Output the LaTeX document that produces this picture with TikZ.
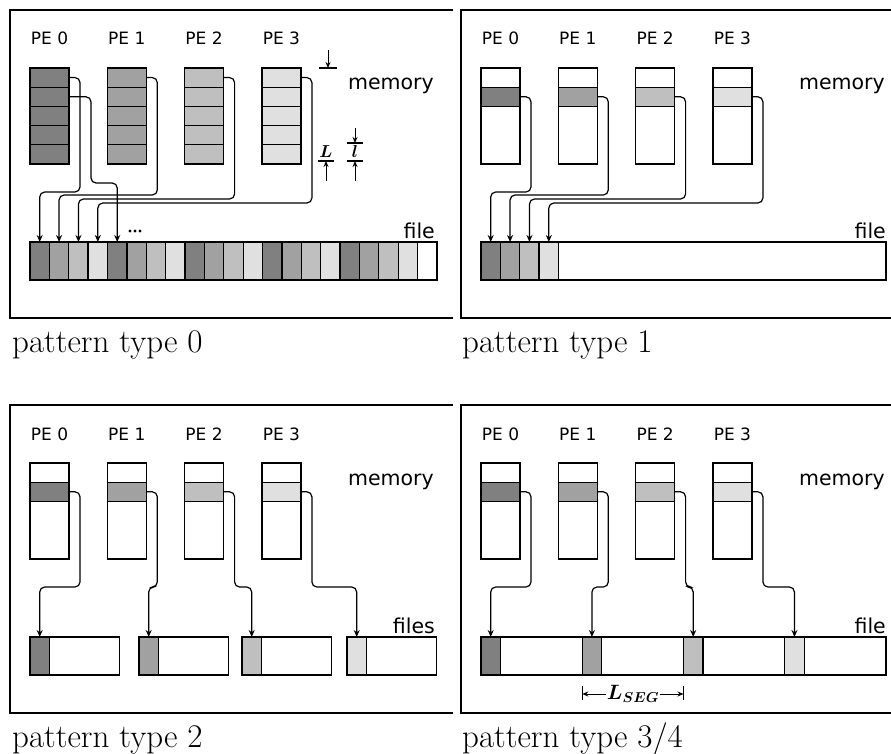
\documentclass[tikz,border=0pt]{standalone}
\usepackage{fontspec}
\usepackage{bm}
\newfontfamily\labelfont{DejaVu Sans}
\usetikzlibrary{arrows.meta}

\definecolor{g0}{gray}{0.50}
\definecolor{g1}{gray}{0.63}
\definecolor{g2}{gray}{0.75}
\definecolor{g3}{gray}{0.88}

\begin{document}
\begin{tikzpicture}[x=1pt, y=-1pt,
    cell/.style={draw, line width=1.3pt, inner sep=0pt, outer sep=0pt, anchor=north west,
        minimum width=39pt, minimum height=19.2pt},
    fcell/.style={draw, line width=1.3pt, inner sep=0pt, outer sep=0pt, anchor=north west,
        minimum width=19.4pt, minimum height=38pt},
    link/.style={line width=1.2pt, rounded corners=5pt, -{Stealth[length=7pt, width=6pt]}},
    dim/.style={line width=1pt, -{Stealth[length=6pt, width=5pt]}},
    bar/.style={line width=1.2pt},
    pe/.style={font=\labelfont\fontsize{17}{17}\selectfont, anchor=base, inner sep=0pt},
    lbl/.style={font=\labelfont\fontsize{20.5}{20.5}\selectfont, anchor=base east, inner sep=0pt},
    dimlbl/.style={font=\fontsize{16}{16}\selectfont, inner sep=1pt},
    caption/.style={font=\fontsize{33}{33}\selectfont, anchor=base west, inner sep=0pt},
    frame/.style={line width=1.3pt}]
\useasboundingbox (0,0) rectangle (891,754);

% pattern type 0
\begin{scope}
    \draw[frame] (453,10) -- (10,10) -- (10,318) -- (453,318);
    \draw[line width=2.8pt] (10,10) -- (10,318);
    \node[lbl] (amem) at (434,90) {memory};
    \node[lbl] (afile) at (435,238) {file};
    \foreach \i in {0,...,3} {
        \node[pe] (ape\i) at ({49.5+77.3*\i},45) {PE \i};
        \foreach \j in {0,...,4}
            \node[cell, fill=g\i] (am\i\j) at ({30+77.3*\i},{68+19.2*\j}) {};
    }
    \foreach \j in {0,...,19} {
        \pgfmathtruncatemacro\k{mod(\j,4)}
        \node[fcell, fill=g\k] (af\j) at ({30+19.38*\j},242) {};
    }
    \node[fcell] (af20) at ({30+19.38*20},242) {};
    \foreach \i/\lev in {0/192,1/195,2/199,3/203} {
        \coordinate (alv\i) at (0,\lev);
        \draw[link] (am\i0.east) -- ++(11,0) |- (af\i.north |- alv\i) -- (af\i.north);
    }
    \coordinate (alv4) at (0,183);
    \draw[link] (am01.east) -- ++(22,0) |- (af4.north |- alv4) -- (af4.north);
    % more
    \foreach \d in {0,1,2}
        \fill (130+5*\d,231) circle (1.7);
    % L and l
    \draw[bar] (319,68) -- (337,68);
    \draw[dim] (328,50) -- (328,68);
    \node[dimlbl] (Lsym) at (326,152) {$\bm{L}$};
    \draw[bar] (318,161) -- (334,161);
    \draw[dim] (326,181) -- (326,161);
    \draw[bar] (347,143) -- (363,143);
    \draw[dim] (355,128) -- (355,143);
    \node[dimlbl] (lsym) at (355,152) {$\bm{l}$};
    \draw[bar] (347,161) -- (363,161);
    \draw[dim] (355,181) -- (355,161);
    \node[caption] (acap) at (12,352) {pattern type 0};
\end{scope}

% pattern type 1
\begin{scope}[shift={(451,0)}]
    \draw[frame] (440,10) -- (10,10) -- (10,318) -- (440,318);
    \node[lbl] (bmem) at (434,90) {memory};
    \node[lbl] (bfile) at (435,238) {file};
    \foreach \i in {0,...,3} {
        \node[pe] (bpe\i) at ({49.5+77.3*\i},45) {PE \i};
        \node[cell] (bm\i0) at ({30+77.3*\i},68) {};
        \node[cell, fill=g\i] (bm\i1) at ({30+77.3*\i},87.2) {};
        \node[cell, minimum height=57.6pt] (bm\i2) at ({30+77.3*\i},106.4) {};
        \node[fcell, fill=g\i] (bf\i) at ({30+19.38*\i},242) {};
    }
    \node[fcell, minimum width=327.5pt] (bw) at (107.5,242) {};
    \foreach \i/\lev in {0/192,1/195,2/199,3/203} {
        \coordinate (blv\i) at (0,\lev);
        \draw[link] (bm\i1.east) -- ++(11,0) |- (bf\i.north |- blv\i) -- (bf\i.north);
    }
    \node[caption] (bcap) at (11,352) {pattern type 1};
\end{scope}

% pattern type 2
\begin{scope}[shift={(0,395)}]
    \draw[frame] (453,10) -- (10,10) -- (10,318) -- (453,318);
    \draw[line width=2.8pt] (10,10) -- (10,318);
    \node[lbl] (cmem) at (434,90) {memory};
    \node[lbl] (cfile) at (435,238) {files};
    \coordinate (clv) at (0,192);
    \foreach \i in {0,...,3} {
        \node[pe] (cpe\i) at ({49.5+77.3*\i},45) {PE \i};
        \node[cell] (cm\i0) at ({30+77.3*\i},68) {};
        \node[cell, fill=g\i] (cm\i1) at ({30+77.3*\i},87.2) {};
        \node[cell, minimum height=57.6pt] (cm\i2) at ({30+77.3*\i},106.4) {};
    }
    \foreach \i/\x in {0/30,1/139,2/242,3/347} {
        \node[fcell, fill=g\i] (cf\i) at (\x,242) {};
        \node[fcell, minimum width=70pt] (cw\i) at ({\x+19.4},242) {};
    }
    \foreach \i in {0,...,3}
        \draw[link] (cm\i1.east) -- ++(11,0) |- (cf\i.north |- clv) -- (cf\i.north);
    \node[caption] (ccap) at (12,352) {pattern type 2};
\end{scope}

% pattern type 3/4
\begin{scope}[shift={(451,395)}]
    \draw[frame] (440,10) -- (10,10) -- (10,318) -- (440,318);
    \node[lbl] (dmem) at (434,90) {memory};
    \node[lbl] (dfile) at (435,238) {file};
    \coordinate (dlv) at (0,192);
    \foreach \i in {0,...,3} {
        \node[pe] (dpe\i) at ({49.5+77.3*\i},45) {PE \i};
        \node[cell] (dm\i0) at ({30+77.3*\i},68) {};
        \node[cell, fill=g\i] (dm\i1) at ({30+77.3*\i},87.2) {};
        \node[cell, minimum height=57.6pt] (dm\i2) at ({30+77.3*\i},106.4) {};
        \node[fcell, fill=g\i] (df\i) at ({30+101.25*\i},242) {};
        \node[fcell, minimum width=81.85pt] (dw\i) at ({49.4+101.25*\i},242) {};
    }
    \foreach \i in {0,...,3}
        \draw[link] (dm\i1.east) -- ++(11,0) |- (df\i.north |- dlv) -- (df\i.north);
    % L_SEG
    \node[dimlbl, font=\fontsize{20}{20}\selectfont] (lseg) at (182,299) {$\bm{L}_{\bm{SEG}}$};
    \coordinate (tktop) at (0,291);
    \coordinate (tkbot) at (0,305);
    \draw[bar] (df1.south west |- tktop) -- (df1.south west |- tkbot);
    \draw[bar] (df2.south west |- tktop) -- (df2.south west |- tkbot);
    \draw[dim] (lseg.west) -- (df1.south west |- lseg.west);
    \draw[dim] (lseg.east) -- (df2.south west |- lseg.east);
    \node[caption] (dcap) at (11,352) {pattern type 3/4};
\end{scope}
\end{tikzpicture}
\end{document}
